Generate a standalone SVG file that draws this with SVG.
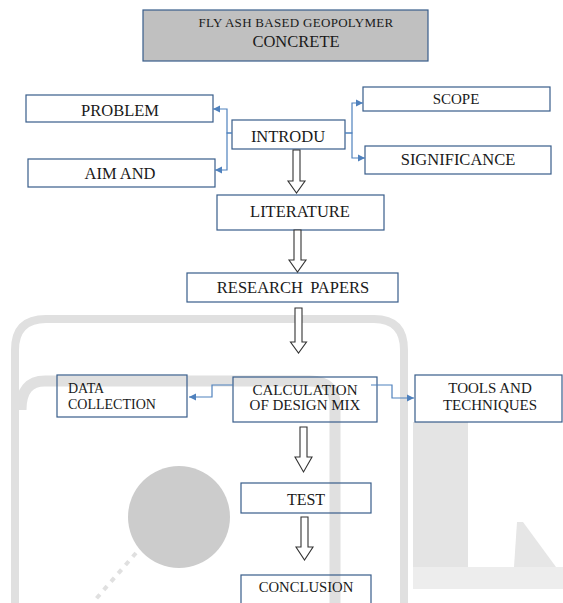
<svg xmlns="http://www.w3.org/2000/svg" width="563" height="603" viewBox="0 0 563 603">
<style>
.box{fill:none;stroke:#385d8a;stroke-width:1.2}
.t{font-family:"Liberation Serif","Times New Roman",serif;fill:#1a1a1a;text-anchor:middle}
.tl{font-family:"Liberation Serif","Times New Roman",serif;fill:#1a1a1a;text-anchor:start}
.conn{fill:none;stroke:#4f81bd;stroke-width:1.2}
.blk{fill:#ffffff;stroke:#333333;stroke-width:1.1}
.wm{fill:none;stroke:#e0e0e0}
</style>
<defs>
<marker id="ah" markerUnits="userSpaceOnUse" markerWidth="8" markerHeight="8" refX="7" refY="4" orient="auto">
<path d="M0,0.5 L7,4 L0,7.5 Z" fill="#4f81bd"/>
</marker>
</defs>
<rect width="563" height="603" fill="#ffffff"/>
<g id="watermark">
<path class="wm" d="M15,603 V350 Q15,319 46,319 H374 Q404,319 404,350 V603" stroke-width="8"/>
<path class="wm" d="M21,410 Q21,381 45,381 H310 Q335,381 335,405 V603" stroke-width="11"/>
<rect x="413" y="422" width="55" height="146" fill="#e4e4e4"/>
<rect x="413" y="567" width="150" height="22" fill="#ededed"/>
<polygon points="514,567 517,522 523,522 556,567" fill="#e6e6e6"/>
<circle cx="179" cy="517" r="51" fill="#cccccc"/>
<line x1="136" y1="553" x2="95" y2="600" stroke="#e0e0e0" stroke-width="4" stroke-dasharray="5,6"/>
</g>
<g id="title">
<rect x="143" y="10" width="285" height="51" fill="#c0c0c0" stroke="#385d8a" stroke-width="1.2"/>
<text class="t" x="296" y="27" font-size="13" letter-spacing="0.3">FLY ASH BASED GEOPOLYMER</text>
<text class="t" x="296" y="47" font-size="16.5">CONCRETE</text>
</g>
<g id="problem">
<rect class="box" x="26" y="95" width="187" height="27"/>
<text class="t" x="120" y="116" font-size="16.5">PROBLEM</text>
</g>
<g id="aim">
<rect class="box" x="28" y="159" width="187" height="28"/>
<text class="t" x="120" y="179" font-size="16.5">AIM AND</text>
</g>
<g id="intro">
<rect class="box" x="232" y="120" width="113" height="29"/>
<text class="t" x="288" y="142" font-size="16.5">INTRODU</text>
</g>
<g id="scope">
<rect class="box" x="363" y="87" width="187" height="24"/>
<text class="t" x="456" y="104" font-size="15">SCOPE</text>
</g>
<g id="significance">
<rect class="box" x="365" y="146" width="186" height="28"/>
<text class="t" x="458" y="165" font-size="16.5">SIGNIFICANCE</text>
</g>
<g id="literature">
<rect class="box" x="217" y="195" width="167" height="35"/>
<text class="t" x="300" y="217" font-size="16.5">LITERATURE</text>
</g>
<g id="research">
<rect class="box" x="187" y="273" width="211" height="29"/>
<text class="t" x="293" y="293" font-size="16.5" word-spacing="3">RESEARCH PAPERS</text>
</g>
<g id="calc">
<rect class="box" x="233" y="377" width="144" height="45"/>
<text class="t" x="305" y="395" font-size="15">CALCULATION</text>
<text class="t" x="305" y="410" font-size="15">OF DESIGN MIX</text>
</g>
<g id="data">
<rect class="box" x="57" y="375" width="130" height="42"/>
<text class="tl" x="68" y="393" font-size="14">DATA</text>
<text class="tl" x="68" y="409" font-size="14">COLLECTION</text>
</g>
<g id="tools">
<rect class="box" x="415" y="375" width="147" height="47"/>
<text class="t" x="490" y="393" font-size="15">TOOLS AND</text>
<text class="t" x="490" y="410" font-size="15">TECHNIQUES</text>
</g>
<g id="test">
<rect class="box" x="241" y="483" width="130" height="30"/>
<text class="t" x="306" y="505" font-size="16">TEST</text>
</g>
<g id="conclusion">
<rect class="box" x="241" y="575" width="130" height="40"/>
<text class="t" x="306" y="592" font-size="14.7">CONCLUSION</text>
</g>
<g id="connectors">
<path class="conn" d="M232,133 H227 V109 H213" marker-end="url(#ah)"/>
<path class="conn" d="M232,133 H227 V170 H215" marker-end="url(#ah)"/>
<path class="conn" d="M345,133 H352 V103 H363" marker-end="url(#ah)"/>
<path class="conn" d="M345,133 H352 V158 H365" marker-end="url(#ah)"/>
<path class="conn" d="M233,385 H212 V397 H189" marker-end="url(#ah)"/>
<path class="conn" d="M371,385 H392 V398 H414" marker-end="url(#ah)"/>
<path class="blk" d="M293,150 H300 V181 H305 L296.5,193 L288,181 H293 Z"/>
<path class="blk" d="M294,230 H301 V260 H306 L297.5,272 L289,260 H294 Z"/>
<path class="blk" d="M295,308 H302 V342 H306.5 L298.5,353 L290.5,342 H295 Z"/>
<path class="blk" d="M300,427 H307 V457 H312 L303.5,472 L295,457 H300 Z"/>
<path class="blk" d="M301,517 H308 V547 H313 L304.5,560 L296,547 H301 Z"/>
</g>
</svg>
